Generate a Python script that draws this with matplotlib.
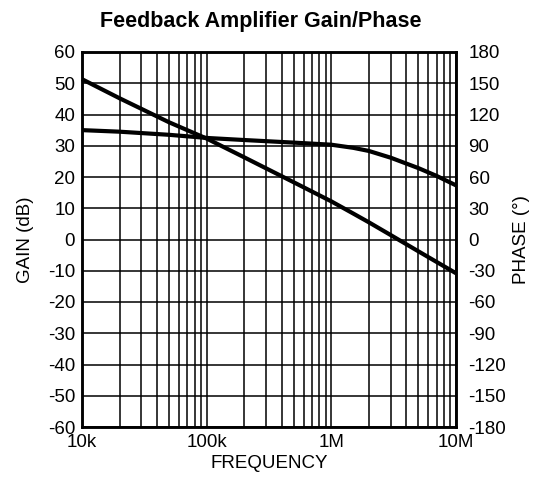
import matplotlib
matplotlib.use("Agg")
import matplotlib.pyplot as plt
from matplotlib.ticker import FixedLocator, NullFormatter, LogLocator

plt.rcParams['font.family'] = ['Liberation Sans', 'DejaVu Sans']
plt.rcParams['axes.unicode_minus'] = False

freq = [10e3, 20e3, 50e3, 100e3, 200e3, 500e3, 1e6, 1.5e6, 2e6, 3e6, 5e6, 7e6, 10e6]
gain_db = [51.3, 45.2, 37.5, 32.3, 26.3, 18.3, 12.2, 8.3, 5.5, 1.4, -3.8, -7.2, -10.8]
phase_deg = [105, 103.5, 100.5, 97.5, 95.5, 93, 91, 88, 85, 78.5, 68.5, 61, 52]

x_ticks = [1e4, 1e5, 1e6, 1e7]
x_labels = ["10k", "100k", "1M", "10M"]
gain_ticks = list(range(-60, 61, 10))
phase_ticks = list(range(-180, 181, 30))

FS = 13.5

fig = plt.figure(figsize=(5.43, 4.83), dpi=100)
ax = fig.add_axes([82/543, 1-427/483, 374/543, 375/483])
ax2 = ax.twinx()

ax.set_xscale('log')
ax.set_xlim(1e4, 1e7)
ax.set_ylim(-60, 60)
ax2.set_ylim(-180, 180)

ax.xaxis.set_major_locator(FixedLocator(x_ticks))
ax.set_xticklabels(x_labels)
ax.xaxis.set_minor_locator(LogLocator(base=10, subs=range(2, 10)))
ax.xaxis.set_minor_formatter(NullFormatter())
ax.set_yticks(gain_ticks)
ax2.set_yticks(phase_ticks)

ax.grid(True, which='major', color='black', linewidth=1.1)
ax.grid(True, which='minor', axis='x', color='black', linewidth=1.1)

ax.tick_params(axis='both', which='both', length=0, labelsize=FS, colors='black')
ax.tick_params(axis='y', pad=5)
ax.tick_params(axis='x', pad=5)
ax2.tick_params(axis='y', length=0, labelsize=FS, pad=9)

for sp in list(ax.spines.values()) + list(ax2.spines.values()):
    sp.set_linewidth(1.8)
    sp.set_color('black')

ax.plot(freq, gain_db, color='black', linewidth=3.0, solid_capstyle='butt', clip_on=False, zorder=5)
ax2.plot(freq, phase_deg, color='black', linewidth=3.0, solid_capstyle='butt', clip_on=False, zorder=5)

ax.set_xlabel("FREQUENCY", fontsize=FS, labelpad=3)
ax.set_ylabel("GAIN (dB)", fontsize=FS, labelpad=10)
ax2.set_ylabel("PHASE (°)", fontsize=FS, labelpad=5)

fig.text(261/543, 1-27/483, "Feedback Amplifier Gain/Phase", ha='center', va='baseline',
         fontsize=15.5, fontweight='bold')

fig.savefig("out.png", dpi=100)
